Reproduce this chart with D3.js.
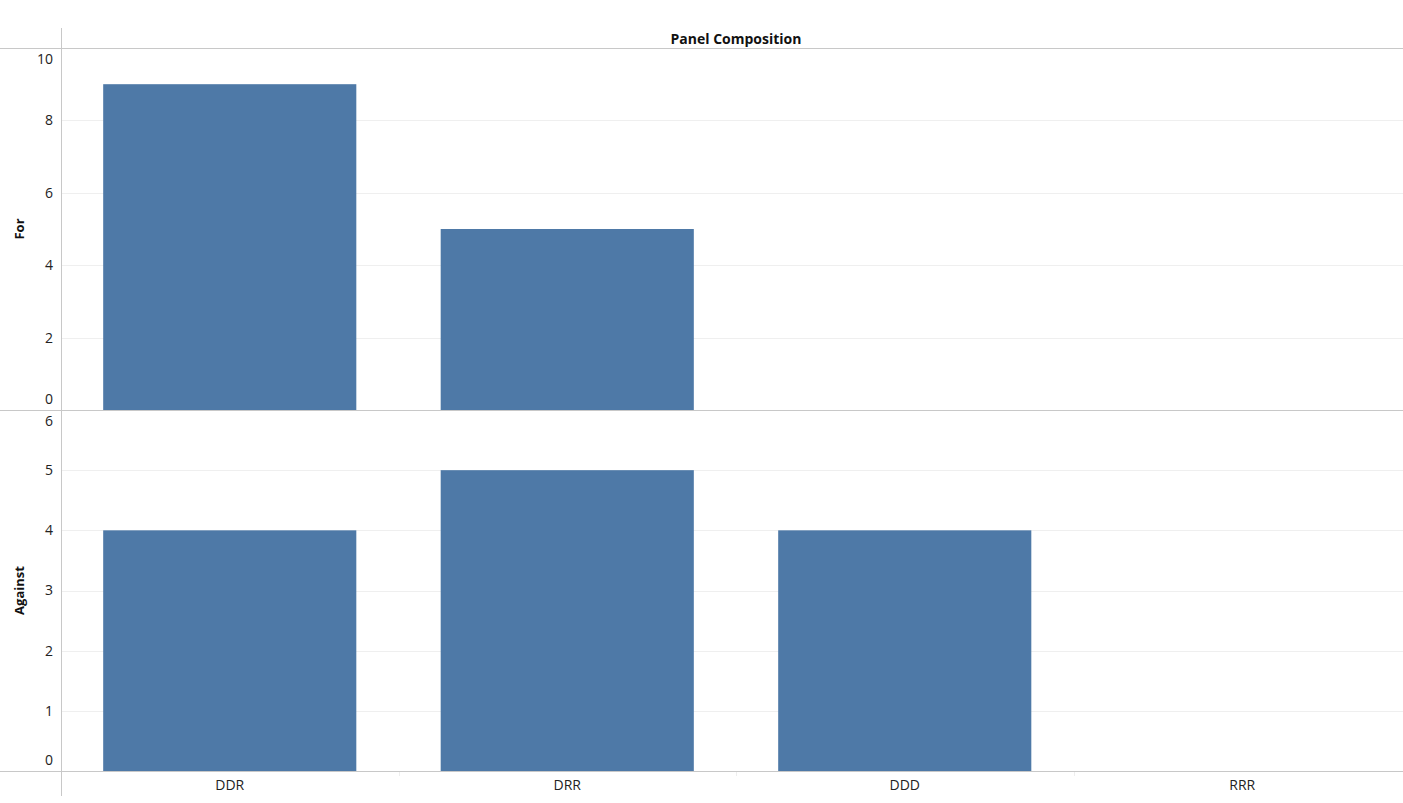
<!DOCTYPE html>
<html><head><meta charset="utf-8">
<script src="https://cdn.jsdelivr.net/npm/d3@7"></script>
<style>body{margin:0;background:#fff}svg{display:block}</style>
</head><body>
<script>
const categories = ["DDR","DRR","DDD","RRR"];
const forValues = [9, 5, 0, 0];
const againstValues = [4, 5, 4, 0];
const forTicks = [0,2,4,6,8,10];
const againstTicks = [0,1,2,3,4,5,6];
const title = "Panel Composition";
const rowLabels = ["For","Against"];

const W = 1403, H = 803;
const left = 61, right = 1411;
const svg = d3.select("body").append("svg").attr("width", W).attr("height", H);
const font = "'Open Sans', sans-serif";
const lineCol = "#c8c8c8", gridCol = "#efefef", barCol = "#4e79a7";

const x = d3.scaleBand().domain(categories).range([left, right]).paddingInner(0.25).paddingOuter(0.125);

const panels = [
  {label: rowLabels[0], values: forValues, ticks: forTicks, y: d3.scaleLinear().domain([0,10]).range([410,48])},
  {label: rowLabels[1], values: againstValues, ticks: againstTicks, y: d3.scaleLinear().domain([0,6]).range([771,410])}
];

panels.forEach(p => {
  const g = svg.append("g");
  g.selectAll("line.grid").data(p.ticks.filter(t => t !== p.y.domain()[0] && t !== p.y.domain()[1]))
    .join("line").attr("x1", left).attr("x2", W)
    .attr("y1", d => Math.round(p.y(d)) + 0.5).attr("y2", d => Math.round(p.y(d)) + 0.5)
    .attr("stroke", gridCol).attr("stroke-width", 1);
  g.selectAll("rect").data(categories.map((c,i) => ({c, v: p.values[i]})).filter(d => d.v > 0))
    .join("rect").attr("x", d => x(d.c)).attr("width", x.bandwidth())
    .attr("y", d => p.y(d.v)).attr("height", d => p.y(0) - p.y(d.v)).attr("fill", barCol);
  const [d0, d1] = p.y.domain();
  g.selectAll("text.tick").data(p.ticks).join("text")
    .attr("x", 53).attr("text-anchor", "end")
    .attr("y", d => { let yy = p.y(d); if (d === d1) yy += 11; else if (d === d0) yy -= 11; return yy; })
    .attr("dy", "0.35em")
    .attr("font-family", font).attr("font-size", 14).attr("fill", "#222")
    .text(d => d);
  const cy = (p.y.range()[0] + p.y.range()[1]) / 2;
  g.append("text").attr("transform", `translate(24,${cy}) rotate(-90)`)
    .attr("text-anchor", "middle").attr("font-family", font).attr("font-weight", "bold")
    .attr("font-size", 13).attr("fill", "#111").text(p.label);
});

svg.append("line").attr("x1", 0).attr("x2", W).attr("y1", 48.5).attr("y2", 48.5).attr("stroke", lineCol);
svg.append("line").attr("x1", 0).attr("x2", W).attr("y1", 410.5).attr("y2", 410.5).attr("stroke", lineCol);
svg.append("line").attr("x1", 0).attr("x2", W).attr("y1", 771.5).attr("y2", 771.5).attr("stroke", lineCol);
svg.append("line").attr("x1", 61.5).attr("x2", 61.5).attr("y1", 28).attr("y2", 796).attr("stroke", lineCol);

svg.selectAll("line.sep").data(categories.slice(1)).join("line")
  .attr("x1", d => Math.round(x(d) - x.step()*x.paddingInner()/2) + 0.5)
  .attr("x2", d => Math.round(x(d) - x.step()*x.paddingInner()/2) + 0.5)
  .attr("y1", 772).attr("y2", 776).attr("stroke", "#eeeeee");

svg.selectAll("text.cat").data(categories).join("text")
  .attr("x", d => x(d) + x.bandwidth()/2).attr("y", 785).attr("dy", "0.35em")
  .attr("text-anchor", "middle").attr("font-family", font).attr("font-size", 14).attr("fill", "#222")
  .text(d => d);

svg.append("text").attr("x", 736).attr("y", 39).attr("dy", "0.35em").attr("text-anchor", "middle")
  .attr("font-family", font).attr("font-weight", "bold").attr("font-size", 14).attr("fill", "#111")
  .text(title);
</script>
</body></html>
